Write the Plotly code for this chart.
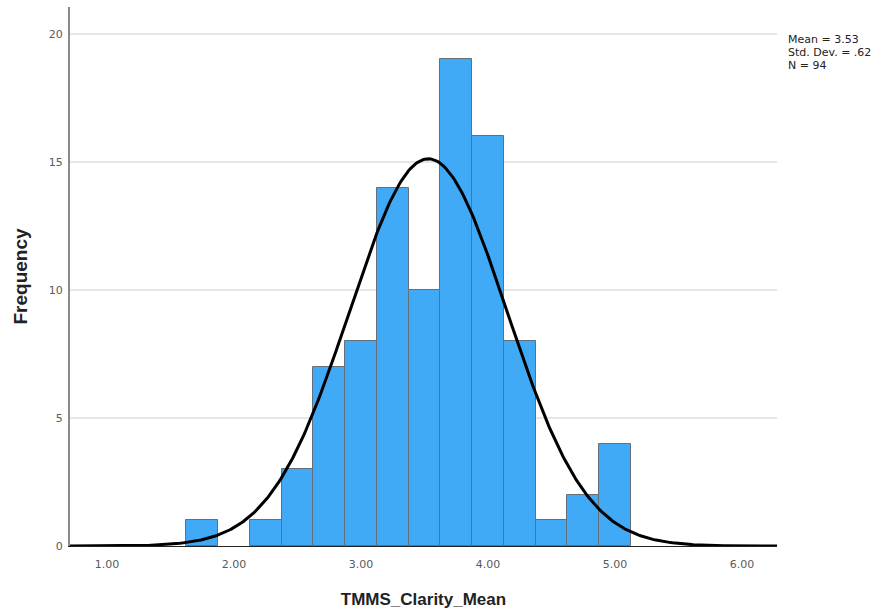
import numpy as np
import plotly.graph_objects as go

# Histogram of TMMS_Clarity_Mean (bin width 0.25)
bin_starts = [1.625, 2.125, 2.375, 2.625, 2.875, 3.125, 3.375, 3.625, 3.875, 4.125, 4.375, 4.625, 4.875]
counts = [1, 1, 3, 7, 8, 14, 10, 19, 16, 8, 1, 2, 4]
bin_width = 0.25

mean_val = 3.53
sd_val = 0.62
n_val = 94

x_ticks = [1, 2, 3, 4, 5, 6]
x_tick_labels = ["1.00", "2.00", "3.00", "4.00", "5.00", "6.00"]
y_ticks = [0, 5, 10, 15, 20]

x_range = [0.709, 6.276]
y_range = [0, 21.05]

centers = [s + bin_width / 2 for s in bin_starts]

# Fitted normal curve scaled to counts
xc = np.linspace(x_range[0], x_range[1], 400)
yc = n_val * bin_width / (sd_val * np.sqrt(2 * np.pi)) * np.exp(-0.5 * ((xc - mean_val) / sd_val) ** 2)

fig = go.Figure()
fig.add_trace(go.Bar(
    x=centers, y=counts, width=bin_width,
    marker=dict(color="#41aaf7", line=dict(color="#63707a", width=1)),
    hoverinfo="x+y",
))
fig.add_trace(go.Scatter(
    x=xc, y=yc, mode="lines",
    line=dict(color="#000000", width=3),
    hoverinfo="skip",
))

tick_font = dict(family="DejaVu Sans", size=11, color="#5a5a5a")

fig.update_layout(
    width=886, height=612,
    margin=dict(l=70, r=109, t=7, b=66),
    paper_bgcolor="white", plot_bgcolor="white",
    showlegend=False,
    bargap=0,
    font=dict(family="Liberation Sans", color="#555555", size=11),
    xaxis=dict(
        range=x_range, tickvals=x_ticks, ticktext=x_tick_labels,
        showgrid=False, zeroline=False,
        showline=True, linecolor="#222222", linewidth=1,
        ticks="outside", ticklen=8, tickcolor="rgba(0,0,0,0)",
        tickfont=tick_font,
        title=dict(text="<b>TMMS_Clarity_Mean</b>", font=dict(size=17, color="#222222"), standoff=22),
    ),
    yaxis=dict(
        range=y_range, tickvals=y_ticks,
        showgrid=True, gridcolor="#e6e6e6", gridwidth=2,
        zeroline=False,
        showline=True, linecolor="#8a8a8a", linewidth=2,
        ticks="outside", ticklen=3, tickcolor="rgba(0,0,0,0)",
        tickfont=tick_font,
        title=dict(text="<b>Frequency</b>", font=dict(size=19, color="#222222"), standoff=16),
    ),
)

# Summary statistics block, one line per annotation for tight spacing
stat_lines = [f"Mean = {mean_val:.2f}", f"Std. Dev. = {str(sd_val)[1:]}", f"N = {n_val}"]
for i, line in enumerate(stat_lines):
    fig.add_annotation(
        xref="paper", yref="paper", x=1.013, y=(546 - (40 + 12.5 * i)) / 539,
        xanchor="left", yanchor="middle",
        text=line, showarrow=False, align="left",
        font=dict(family="DejaVu Sans", size=11, color="#222222"),
    )

fig.write_html("out.html")
